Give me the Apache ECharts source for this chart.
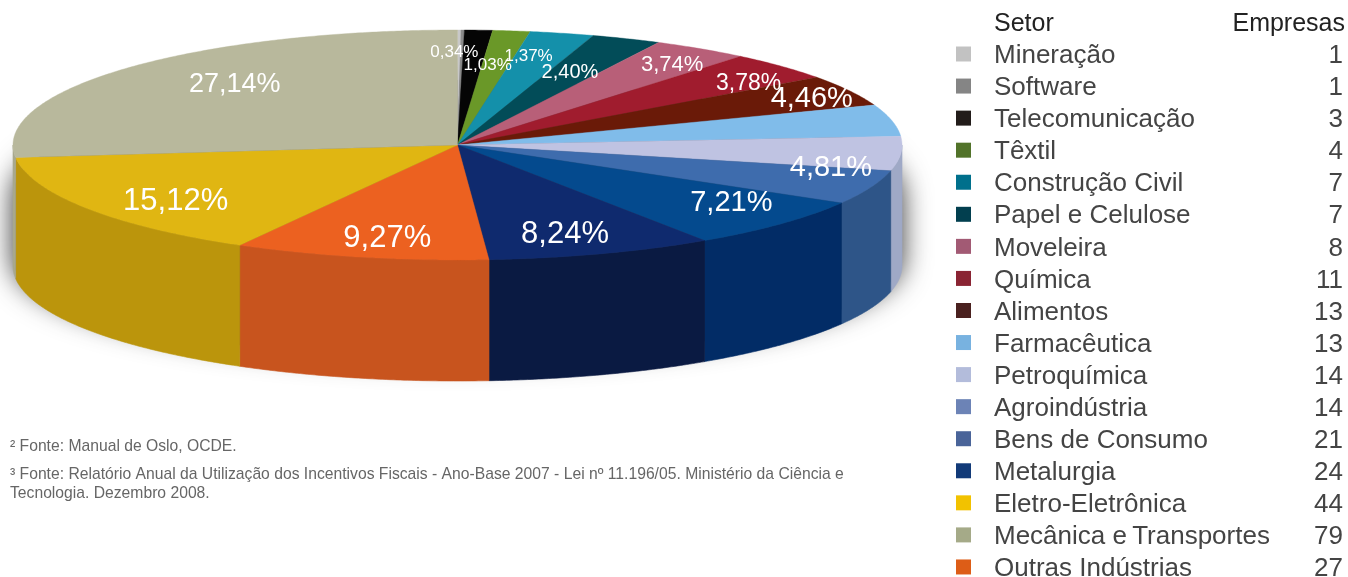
<!DOCTYPE html>
<html><head><meta charset="utf-8">
<style>html,body{margin:0;padding:0;background:#fff}#c{width:1348px;height:577px}</style>
<script src="https://cdn.jsdelivr.net/npm/echarts@6/dist/echarts.min.js"></script>
</head><body><div id="c"></div>
<script>
const sectors = ['Mineração','Software','Telecomunicação','Têxtil','Construção Civil','Papel e Celulose','Moveleira','Química','Alimentos','Farmacêutica','Petroquímica','Agroindústria','Bens de Consumo','Metalurgia','Outras Indústrias','Eletro-Eletrônica','Mecânica e\u2009Transportes'];
const empresas = [1,1,3,4,7,7,8,11,13,13,14,14,21,24,27,44,79];
const legendOrder = ['Mineração','Software','Telecomunicação','Têxtil','Construção Civil','Papel e Celulose','Moveleira','Química','Alimentos','Farmacêutica','Petroquímica','Agroindústria','Bens de Consumo','Metalurgia','Eletro-Eletrônica','Mecânica e\u2009Transportes','Outras Indústrias'];
const legendColors = {'Mineração':'#c2c2c2','Software':'#858585','Telecomunicação':'#221c1a','Têxtil':'#52732a','Construção Civil':'#00708c','Papel e Celulose':'#023f4f','Moveleira':'#a25a74','Química':'#8a2433','Alimentos':'#4a211f','Farmacêutica':'#78b2e0','Petroquímica':'#b3bcdb','Agroindústria':'#6c83b6','Bens de Consumo':'#4a6499','Metalurgia':'#123a78','Eletro-Eletrônica':'#f2c200','Mecânica e\u2009Transportes':'#a5aa88','Outras Indústrias':'#dd5d17'};
const topColors = ['#c8c8c8','#8a8a8a','#050505','#6a9828','#1490aa','#024c58','#b85f78','#a01c2e','#6a1a08','#80bcea','#bfc3e2','#3e6cad','#044a8e','#0f2a6e','#ec6120','#e0b612','#b8b89c'];
const sideColors = ['#aaa','#777','#000','#557','#157','#034','#944','#811','#511','#68a','#9fa9c6','#2e5588','#022c66','#0a1a42','#c8541e','#bb950c','#a8a88e'];
const labelTexts = ['0,34%','1,03%','1,37%','2,40%','3,74%','3,78%','4,46%','4,81%','7,21%','8,24%','9,27%','15,12%','27,14%'];
const labelAt = [[-0.007,0.817],[0.068,0.704],[0.160,0.783],[0.253,0.643],[0.483,0.713],[0.655,0.548],[0.797,0.409],[0.84,-0.19],[0.616,-0.487],[0.242,-0.765],[-0.158,-0.8],[-0.634,-0.478],[-0.501,0.539]];
const labelSizes = [17,17,17,20,22,23,29,29,29,31,31,31,27];
const notes = ['² Fonte: Manual de Oslo, OCDE.','³ Fonte: Relatório Anual da Utilização dos Incentivos Fiscais - Ano-Base 2007 - Lei nº 11.196/05. Ministério da Ciência e','Tecnologia. Dezembro 2008.'];
// the reference's perspective turns the slices slightly: [angle, correction], in degrees
const perspective = [[0,0],[2.5,-1.6],[11,-1.7],[20,-2],[28,-1.7],[38,1.2],[52,2],[68,1.6],[100,1.5],[263,1.5],[360,0]];

const total = empresas.reduce((a,b)=>a+b,0);
let run = 0;
const spans = empresas.map(v=>{const s=run/total; run+=v; return [s,run/total];});
const DEPTH = 121;
function warp(rad){
  const d=rad*180/Math.PI;
  for(let k=1;k<perspective.length;k++){
    const [x0,y0]=perspective[k-1],[x1,y1]=perspective[k];
    if(d<=x1) return (d+y0+(y1-y0)*(d-x0)/(x1-x0))*Math.PI/180;
  }
  return rad;
}
const pt = (api,ang)=>api.coord([Math.sin(ang),Math.cos(ang)]);
function rim(api,a0,a1){const n=Math.max(2,Math.ceil((a1-a0)/0.008));const r=[];for(let k=0;k<=n;k++)r.push(pt(api,a0+(a1-a0)*k/n));return r;}

function sectorRender(params,api){
  const i=params.seriesIndex-1;
  const a0=warp(api.value(0)*2*Math.PI),a1=warp(api.value(1)*2*Math.PI);
  const kids=[];
  const f0=Math.max(a0,Math.PI/2),f1=Math.min(a1,1.5*Math.PI);
  if(f1>f0){
    const arc=rim(api,f0,f1);
    const low=arc.map(p=>[p[0],p[1]+DEPTH]).reverse();
    kids.push({type:'polygon',shape:{points:arc.concat(low)},style:{fill:sideColors[i],stroke:sideColors[i],lineWidth:0.6}});
  }
  const pts=[api.coord([0,0])].concat(rim(api,a0,a1));
  kids.push({type:'polygon',shape:{points:pts},style:{fill:topColors[i],stroke:topColors[i],lineWidth:0.4}});
  return {type:'group',children:kids};
}
function shadowRender(params,api){
  const c=api.coord([0,0]);
  // a body a little smaller than the pie, only its blurred edge shows
  const back=rim(api,-Math.PI/2,Math.PI/2).map(p=>[p[0],p[1]+50]);
  const front=rim(api,Math.PI/2,1.5*Math.PI).map(p=>[p[0],c[1]+(p[1]-c[1])*0.85+115]);
  return {type:'polygon',shape:{points:back.concat(front)},style:{fill:'#555',shadowBlur:28,shadowColor:'rgba(0,0,0,0.8)'}};
}
function labelRender(params,api){
  const idx=api.value(0);const p=api.coord(labelAt[idx]);
  return {type:'text',x:p[0],y:p[1]+1.5,style:{text:labelTexts[idx],fill:'#fff',font:labelSizes[idx]+'px "Liberation Sans"',align:'center',verticalAlign:'middle'}};
}
const common={type:'custom',coordinateSystem:'cartesian2d',silent:true,animation:false};
const series=[{...common,name:'sombra',renderItem:shadowRender,data:[[0]],z:1,encode:{x:0,y:0}}]
 .concat(sectors.map((n,i)=>({...common,name:n,renderItem:sectorRender,data:[spans[i]],z:2,encode:{x:0,y:1},itemStyle:{color:topColors[i]}})))
 .concat([{...common,name:'rótulos',renderItem:labelRender,data:labelTexts.map((t,i)=>[i]),z:5,encode:{x:0,y:0}}]);
const countOf=n=>empresas[sectors.indexOf(n)];
const chart=echarts.init(document.getElementById('c'),null,{renderer:'canvas'});
const legendFont='"Liberation Sans"';
chart.setOption({
  animation:false,backgroundColor:'#fff',
  grid:{left:13,top:30,width:889,height:230},
  xAxis:{type:'value',min:-1,max:1,show:false},
  yAxis:{type:'value',min:-1,max:1,show:false},
  legend:{orient:'vertical',left:956,top:43,height:570,padding:0,itemGap:6.06,itemWidth:15,itemHeight:15,selectedMode:false,icon:'rect',
    data:legendOrder.map(n=>({name:n,itemStyle:{color:legendColors[n]}})),
    formatter:n=>'{n|'+n+'}{v|'+countOf(n)+'}',
    textStyle:{rich:{n:{width:300,padding:[4,0,0,18],align:'left',fontSize:26,fontFamily:legendFont,color:'#444'},
                     v:{width:49,padding:[4,0,0,0],align:'right',fontSize:26,fontFamily:legendFont,color:'#444'}}}},
  graphic:[
    {type:'text',left:994,top:12,style:{text:'Setor',font:'25px '+legendFont,fill:'#222'}},
    {type:'text',right:3,top:12,style:{text:'Empresas',font:'25px '+legendFont,fill:'#222',align:'right'}},
    {type:'text',left:10,top:439,style:{text:notes[0],font:'15.7px '+legendFont,fill:'#666'}},
    {type:'text',left:10,top:467,style:{text:notes[1],font:'15.7px '+legendFont,fill:'#666'}},
    {type:'text',left:10,top:486,style:{text:notes[2],font:'15.7px '+legendFont,fill:'#666'}}
  ],
  series
});
</script></body></html>
